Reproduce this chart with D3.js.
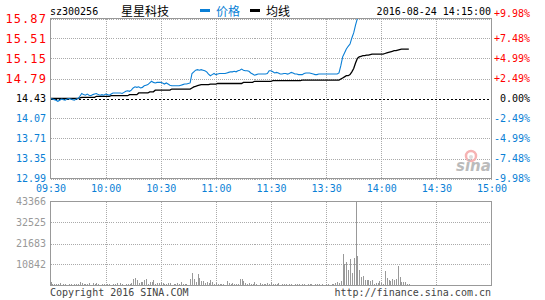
<!DOCTYPE html>
<html>
<head>
<meta charset="utf-8">
<script src="https://cdn.jsdelivr.net/npm/d3@7"></script>
<style>
    body { margin: 0; background: #fff; }
    svg { display: block; }
    .grid-line { stroke: #aaa; stroke-dasharray: 1,1; shape-rendering: crispEdges; }
    .frame { fill: none; stroke: #999; shape-rendering: crispEdges; }
    .vol-bar { fill: #999; shape-rendering: crispEdges; }
</style>
</head>
<body>
<div id="stock-chart"></div>
<script>
const stockCode = 'sz300256';
const stockName = '星星科技';
const timeStamp = '2016-08-24 14:15:00';
const legendNames = ['价格', '均线'];
const prevClose = 14.43;

const priceTicks = [15.87, 15.51, 15.15, 14.79, 14.43, 14.07, 13.71, 13.35, 12.99];
const pctTicks = ['+9.98%', '+7.48%', '+4.99%', '+2.49%', '0.00%', '-2.49%', '-4.99%', '-7.48%', '-9.98%'];
const timeTicks = ['09:30', '10:00', '10:30', '11:00', '11:30', '13:30', '14:00', '14:30', '15:00'];
const volTicks = [43366, 32525, 21683, 10842];

// one value a minute: 09:30-11:30, then 13:01-14:15
const price = [
    14.43, 14.42, 14.41, 14.40, 14.38, 14.40, 14.42, 14.41, 14.40, 14.42,
    14.43, 14.42, 14.41, 14.40, 14.42, 14.43, 14.47, 14.52, 14.50, 14.49,
    14.51, 14.49, 14.48, 14.50, 14.51, 14.52, 14.50, 14.49, 14.50, 14.49,
    14.51, 14.50, 14.49, 14.51, 14.53, 14.53, 14.53, 14.53, 14.53, 14.52,
    14.54, 14.56, 14.57, 14.56, 14.58, 14.62, 14.64, 14.63, 14.64, 14.62,
    14.63, 14.66, 14.67, 14.68, 14.71, 14.74, 14.72, 14.71, 14.72, 14.72,
    14.72, 14.71, 14.69, 14.71, 14.69, 14.67, 14.66, 14.66, 14.66, 14.66,
    14.66, 14.67, 14.68, 14.69, 14.69, 14.70, 14.71, 14.88, 14.91, 14.94,
    14.95, 14.94, 14.95, 14.94, 14.93, 14.91, 14.87, 14.84, 14.86, 14.88,
    14.86, 14.87, 14.88, 14.88, 14.88, 14.88, 14.89, 14.90, 14.91, 14.91,
    14.92, 14.91, 14.93, 14.94, 14.96, 14.94, 14.93, 14.93, 14.92, 14.89,
    14.87, 14.85, 14.86, 14.87, 14.87, 14.87, 14.87, 14.87, 14.88, 14.93,
    14.93,
    14.91, 14.89, 14.90, 14.89, 14.87, 14.87, 14.88, 14.88, 14.87, 14.88,
    14.90, 14.89, 14.87, 14.87, 14.86, 14.86, 14.86, 14.88, 14.89, 14.89,
    14.89, 14.88, 14.87, 14.86, 14.86, 14.87, 14.87, 14.87, 14.87, 14.87,
    14.87, 14.87, 14.87, 14.87, 14.87, 14.87, 14.89, 15.02, 15.18, 15.25,
    15.32, 15.37, 15.41, 15.52, 15.61, 15.75, 15.87, 15.87, 15.87, 15.87,
    15.87, 15.87, 15.87, 15.87, 15.87, 15.87, 15.87, 15.87, 15.87, 15.87,
    15.87, 15.87, 15.87, 15.87, 15.87, 15.87, 15.87, 15.87, 15.87, 15.87,
    15.87, 15.87, 15.87, 15.87, 15.87
];

const avgPrice = [
    14.43, 14.43, 14.43, 14.43, 14.43, 14.43, 14.43, 14.43, 14.43, 14.43,
    14.43, 14.43, 14.43, 14.43, 14.43, 14.43, 14.44, 14.45, 14.45, 14.45,
    14.45, 14.45, 14.45, 14.45, 14.45, 14.47, 14.47, 14.47, 14.47, 14.47,
    14.47, 14.47, 14.47, 14.48, 14.48, 14.48, 14.48, 14.48, 14.48, 14.48,
    14.48, 14.48, 14.48, 14.50, 14.50, 14.50, 14.50, 14.50, 14.53, 14.53,
    14.53, 14.53, 14.53, 14.53, 14.55, 14.55, 14.55, 14.58, 14.58, 14.58,
    14.58, 14.58, 14.58, 14.58, 14.58, 14.58, 14.60, 14.60, 14.60, 14.60,
    14.60, 14.60, 14.60, 14.60, 14.60, 14.60, 14.60, 14.62, 14.64, 14.65,
    14.66, 14.67, 14.68, 14.68, 14.68, 14.68, 14.68, 14.69, 14.69, 14.69,
    14.69, 14.70, 14.70, 14.70, 14.70, 14.70, 14.70, 14.70, 14.70, 14.70,
    14.70, 14.70, 14.70, 14.70, 14.70, 14.72, 14.72, 14.72, 14.72, 14.72,
    14.72, 14.74, 14.74, 14.74, 14.74, 14.74, 14.74, 14.74, 14.74, 14.74,
    14.74,
    14.75, 14.75, 14.75, 14.75, 14.75, 14.75, 14.75, 14.75, 14.75, 14.75,
    14.75, 14.75, 14.75, 14.75, 14.75, 14.75, 14.76, 14.76, 14.76, 14.76,
    14.76, 14.76, 14.76, 14.76, 14.76, 14.76, 14.76, 14.76, 14.76, 14.76,
    14.76, 14.76, 14.76, 14.76, 14.76, 14.76, 14.76, 14.78, 14.80, 14.82,
    14.84, 14.84, 14.86, 14.91, 14.97, 15.07, 15.15, 15.18, 15.19, 15.20,
    15.20, 15.21, 15.21, 15.22, 15.23, 15.23, 15.23, 15.23, 15.23, 15.23,
    15.23, 15.24, 15.25, 15.26, 15.27, 15.28, 15.29, 15.29, 15.30, 15.31,
    15.32, 15.32, 15.32, 15.32, 15.32
];

const volume = [
    1560, 780, 520, 760, 540, 1040, 500, 790, 530, 510,
    770, 520, 480, 780, 520, 540, 1580, 1050, 760, 1020,
    790, 1060, 510, 1300, 1030, 1280, 520, 500, 770, 540,
    510, 780, 520, 490, 770, 530, 1040, 510, 1050, 520,
    500, 780, 520, 760, 1040, 3110, 3990, 2960, 1040, 1560,
    1550, 2950, 3270, 1030, 1710, 1560, 2750, 780, 1400, 1040,
    1710, 1400, 520, 780, 1040, 1390, 510, 770, 520, 1050,
    530, 1560, 780, 520, 770, 510, 3110, 6380, 3120, 1820,
    6070, 3630, 2230, 2220, 1400, 1710, 1390, 2590, 1560, 780,
    1040, 770, 1030, 520, 780, 510, 2070, 1040, 770, 1050,
    780, 520, 770, 3110, 3100, 2070, 1400, 780, 1040, 520,
    770, 1710, 780, 510, 1040, 520, 1030, 780, 1040, 770,
    1560,
    780, 520, 770, 1400, 510, 530, 780, 520, 500, 770,
    520, 510, 780, 530, 520, 500, 770, 520, 510, 530,
    780, 520, 500, 520, 770, 530, 510, 520, 500, 780,
    520, 510, 770, 520, 1040, 1560, 1040, 2230, 16440, 11050,
    12290, 7940, 13640, 6220, 14160, 43366, 15200, 7940, 4150, 4820,
    2750, 2750, 2740, 2390, 2750, 780, 1350, 1040, 2390, 1040,
    1030, 7420, 3630, 2750, 2230, 3270, 2750, 3420, 10010, 4150,
    1710, 1700, 1720, 930, 520
];

function drawChart() {

    const width = 545;
    const height = 300;
    const left = 50.5;
    const right = 491.5;
    const top = 18.5;
    const bottom = 178.5;
    const volTop = 201.5;
    const volBottom = 285.5;
    const blue = '#0a7fd6';
    const red = '#f00';
    const mono = '"DejaVu Sans Mono", "Liberation Mono", monospace';

    const svg = d3.select('#stock-chart')
        .append('svg')
        .attr('width', width)
        .attr('height', height);

    //minute scale, lunch break collapsed
    const xScale = d3.scaleLinear()
        .domain([0, 240])
        .range([left, right]);

    const yScale = d3.scaleLinear()
        .domain([priceTicks[priceTicks.length - 1], priceTicks[0]])
        .range([bottom, top]);

    const vScale = d3.scaleLinear()
        .domain([0, volTicks[0]])
        .range([volBottom, volTop]);

    const timeIdx = timeTicks.map((t, k) => k * 30);
    const colorOf = v => v > prevClose ? red : (v < prevClose ? blue : '#000');

    //header
    svg.append('text')
        .attr('x', 50)
        .attr('y', 15)
        .attr('font-family', mono)
        .attr('font-size', 10)
        .text(stockCode);

    svg.append('text')
        .attr('x', 121)
        .attr('y', 16)
        .attr('font-family', '"Noto Sans CJK SC", sans-serif')
        .attr('font-size', 12)
        .text(stockName);

    const legend = svg.append('g');
    [[blue, 200], ['#000', 250]].forEach((c, k) => {
        legend.append('rect')
            .attr('x', c[1])
            .attr('y', 9)
            .attr('width', 10)
            .attr('height', 3)
            .attr('fill', c[0]);
        legend.append('text')
            .attr('x', c[1] + 16)
            .attr('y', 16)
            .attr('fill', c[0])
            .attr('font-family', '"Noto Sans CJK SC", sans-serif')
            .attr('font-size', 12)
            .text(legendNames[k]);
    });

    svg.append('text')
        .attr('x', 491)
        .attr('y', 15)
        .attr('text-anchor', 'end')
        .attr('font-family', mono)
        .attr('font-size', 10)
        .text(timeStamp);

    //grid lines, price panel
    svg.append('g')
        .selectAll('line')
        .data(priceTicks.filter(d => d !== prevClose))
        .enter()
        .append('line')
        .classed('grid-line', true)
        .attr('x1', left)
        .attr('x2', right)
        .attr('y1', d => Math.round(yScale(d)) + 0.5)
        .attr('y2', d => Math.round(yScale(d)) + 0.5);

    svg.append('g')
        .selectAll('line')
        .data(timeIdx.slice(1, -1))
        .enter()
        .append('line')
        .classed('grid-line', true)
        .attr('x1', d => Math.round(xScale(d)) + 0.5)
        .attr('x2', d => Math.round(xScale(d)) + 0.5)
        .attr('y1', top)
        .attr('y2', bottom);

    //previous close line
    svg.append('line')
        .attr('x1', left)
        .attr('x2', right)
        .attr('y1', Math.round(yScale(prevClose)) + 0.5)
        .attr('y2', Math.round(yScale(prevClose)) + 0.5)
        .attr('stroke', '#000')
        .attr('stroke-dasharray', '2,2')
        .attr('shape-rendering', 'crispEdges');

    //grid lines, volume panel
    svg.append('g')
        .selectAll('line')
        .data(volTicks.slice(1))
        .enter()
        .append('line')
        .classed('grid-line', true)
        .attr('x1', left)
        .attr('x2', right)
        .attr('y1', d => Math.round(vScale(d)) + 0.5)
        .attr('y2', d => Math.round(vScale(d)) + 0.5);

    svg.append('g')
        .selectAll('line')
        .data(timeIdx.slice(1, -1))
        .enter()
        .append('line')
        .classed('grid-line', true)
        .attr('x1', d => Math.round(xScale(d)) + 0.5)
        .attr('x2', d => Math.round(xScale(d)) + 0.5)
        .attr('y1', volTop)
        .attr('y2', volBottom);

    //sina mark
    const mark = svg.append('g');
    mark.append('circle')
        .attr('cx', 471)
        .attr('cy', 156)
        .attr('r', 5)
        .attr('fill', 'none')
        .attr('stroke', '#f6b3b3')
        .attr('stroke-width', 2.5);
    mark.append('circle')
        .attr('cx', 471)
        .attr('cy', 157)
        .attr('r', 2)
        .attr('fill', '#ddd');
    mark.append('text')
        .attr('x', 456)
        .attr('y', 171)
        .attr('font-family', '"DejaVu Sans", sans-serif')
        .attr('font-size', 15)
        .attr('font-weight', 'bold')
        .attr('font-style', 'italic')
        .attr('fill', '#bbb')
        .text('sina');

    //volume bars
    svg.append('g')
        .selectAll('rect')
        .data(volume)
        .enter()
        .append('rect')
        .classed('vol-bar', true)
        .attr('x', (d, i) => Math.round(xScale(i)))
        .attr('y', d => vScale(d))
        .attr('width', 1)
        .attr('height', d => volBottom - vScale(d));

    //lines
    const line = d3.line()
        .x((d, i) => xScale(i))
        .y(d => yScale(d));

    svg.append('path')
        .datum(avgPrice)
        .attr('d', line)
        .attr('fill', 'none')
        .attr('stroke', '#000')
        .attr('stroke-width', 1.3);

    svg.append('path')
        .datum(price)
        .attr('d', line)
        .attr('fill', 'none')
        .attr('stroke', blue)
        .attr('stroke-width', 1.1);

    //frames
    svg.append('rect')
        .classed('frame', true)
        .attr('x', left)
        .attr('y', top)
        .attr('width', right - left)
        .attr('height', bottom - top);

    svg.append('rect')
        .classed('frame', true)
        .attr('x', left)
        .attr('y', volTop)
        .attr('width', right - left)
        .attr('height', volBottom - volTop);

    //left price axis
    const yAxis = d3.axisLeft(yScale)
        .tickValues(priceTicks)
        .tickSize(0)
        .tickPadding(4)
        .tickFormat(d3.format('.2f'));

    const yAxisG = svg.append('g')
        .attr('transform', 'translate(50,0)')
        .call(yAxis);
    yAxisG.select('.domain').remove();
    yAxisG.selectAll('text')
        .attr('font-family', mono)
        .attr('font-size', d => d > prevClose ? 12 : 10)
        .attr('letter-spacing', d => d > prevClose ? 1.1 : 0)
        .attr('x', d => d > prevClose ? -3 : -4)
        .attr('fill', colorOf);

    //right percent axis
    const yAxisR = d3.axisRight(yScale)
        .tickValues(priceTicks)
        .tickSize(0)
        .tickFormat((d, k) => pctTicks[k]);

    const yAxisRG = svg.append('g')
        .attr('transform', 'translate(492,0)')
        .call(yAxisR);
    yAxisRG.select('.domain').remove();
    yAxisRG.selectAll('text')
        .attr('font-family', mono)
        .attr('font-size', 10)
        .attr('text-anchor', 'end')
        .attr('x', 38)
        .attr('y', (d, k) => k === 0 ? -5 : 0)
        .attr('fill', colorOf);

    //time axis
    const xAxis = d3.axisBottom(xScale)
        .tickValues(timeIdx)
        .tickSize(0)
        .tickPadding(7)
        .tickFormat((d, k) => timeTicks[k]);

    const xAxisG = svg.append('g')
        .attr('transform', 'translate(0,178)')
        .call(xAxis);
    xAxisG.select('.domain').remove();
    xAxisG.selectAll('text')
        .attr('font-family', mono)
        .attr('font-size', 10)
        .attr('fill', blue);

    //volume axis
    const vAxis = d3.axisLeft(vScale)
        .tickValues(volTicks)
        .tickSize(0)
        .tickPadding(4)
        .tickFormat(d3.format('d'));

    const vAxisG = svg.append('g')
        .attr('transform', 'translate(50,0)')
        .call(vAxis);
    vAxisG.select('.domain').remove();
    vAxisG.selectAll('text')
        .attr('font-family', mono)
        .attr('font-size', 10)
        .attr('fill', '#999');

    //footer
    svg.append('text')
        .attr('x', 50)
        .attr('y', 296)
        .attr('font-family', mono)
        .attr('font-size', 10)
        .attr('fill', '#444')
        .text('Copyright 2016 SINA.COM');

    svg.append('text')
        .attr('x', 491)
        .attr('y', 296)
        .attr('text-anchor', 'end')
        .attr('font-family', mono)
        .attr('font-size', 10)
        .attr('fill', '#444')
        .text('http://finance.sina.com.cn');
}

drawChart();
</script>
</body>
</html>
